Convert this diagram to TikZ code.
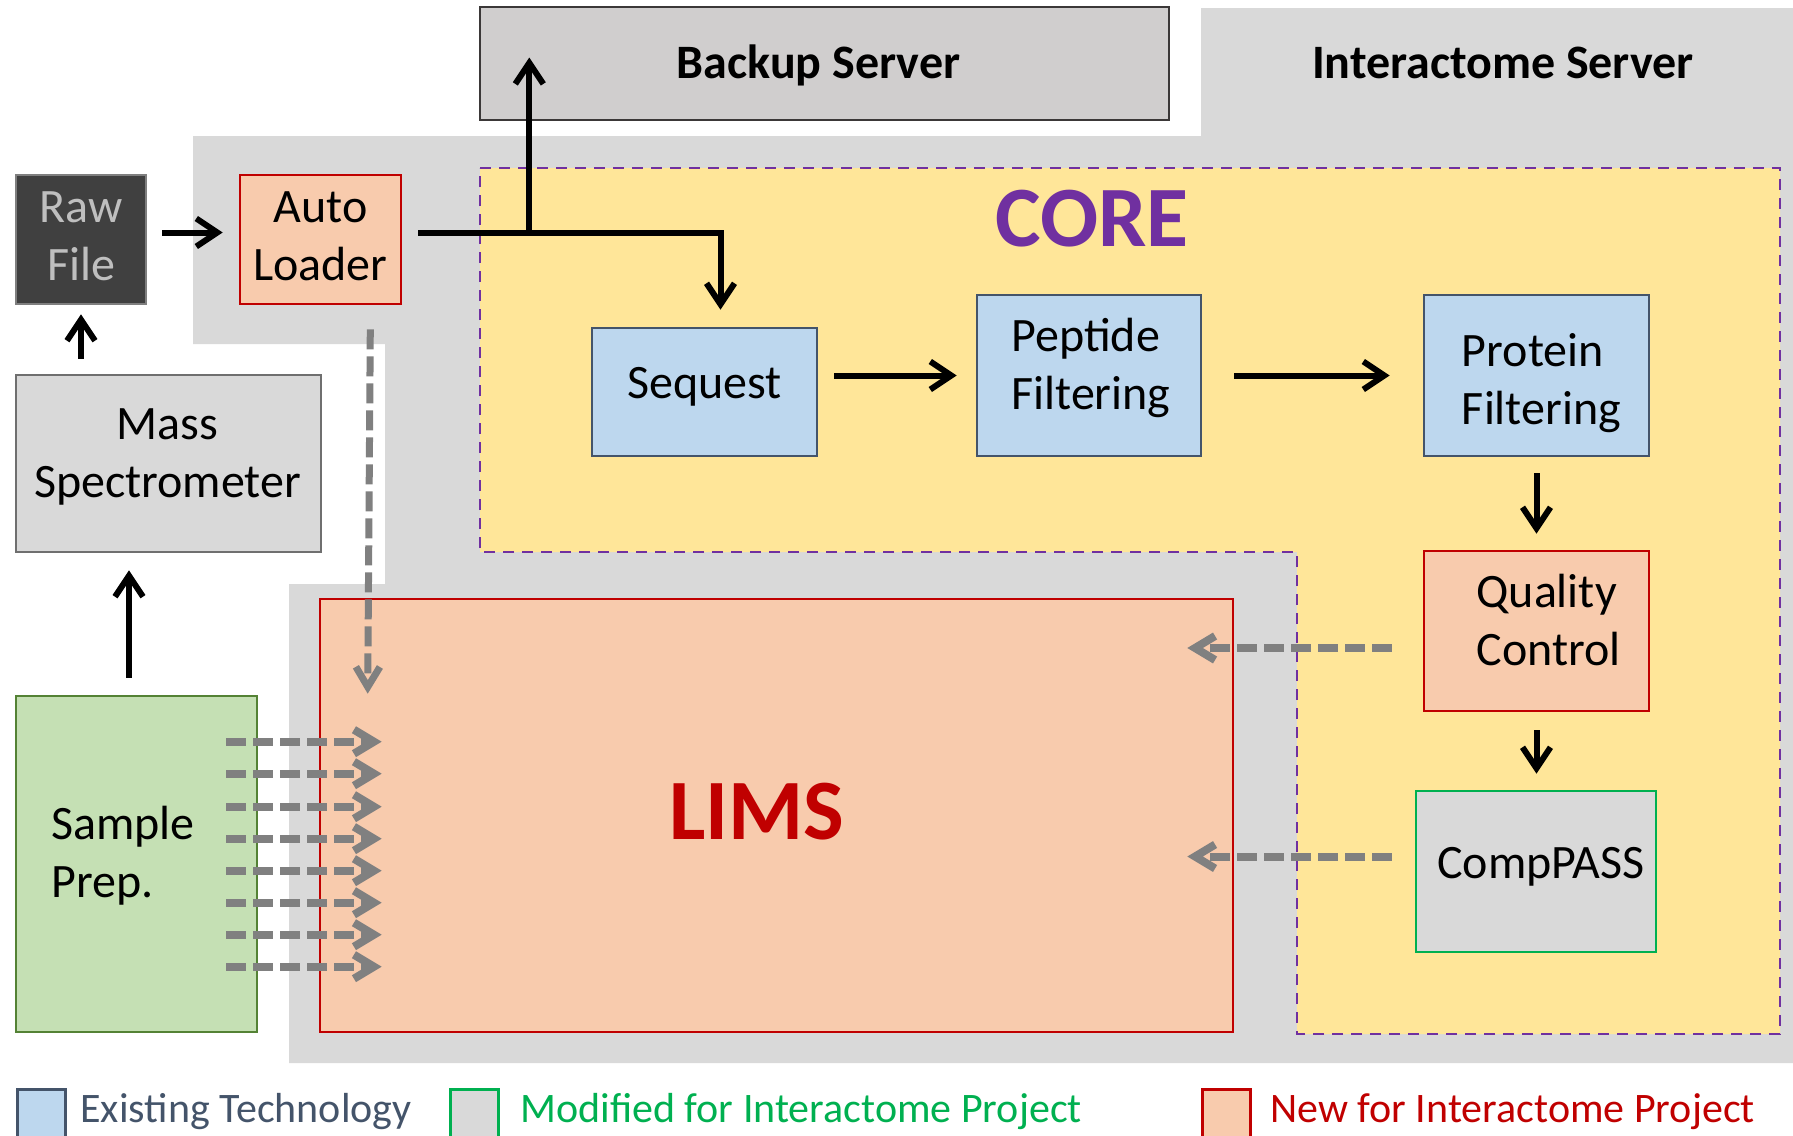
\documentclass[tikz,border=0pt]{standalone}
\usepackage{fontspec}
\setmainfont{Carlito}
\usetikzlibrary{arrows.meta,calc}

\definecolor{srvgray}{HTML}{D9D9D9}
\definecolor{bkfill}{HTML}{D0CECE}
\definecolor{bkline}{HTML}{3B3838}
\definecolor{rawfill}{HTML}{404040}
\definecolor{rawline}{HTML}{7F7F7F}
\definecolor{rawtext}{HTML}{BFBFBF}
\definecolor{newfill}{HTML}{F8CBAD}
\definecolor{newline}{HTML}{C00000}
\definecolor{oldfill}{HTML}{BDD7EE}
\definecolor{oldline}{HTML}{44546A}
\definecolor{modline}{HTML}{00B050}
\definecolor{corefill}{HTML}{FFE699}
\definecolor{coreline}{HTML}{7030A0}
\definecolor{prepfill}{HTML}{C5E0B4}
\definecolor{prepline}{HTML}{548235}
\definecolor{flowgray}{HTML}{808080}
\definecolor{msline}{HTML}{6F6F6F}

\tikzset{
  box/.style={inner sep=0pt, line width=1.3pt},
  oldbox/.style={box, fill=oldfill, draw=oldline},
  newbox/.style={box, fill=newfill, draw=newline},
  boxtext/.style={inner sep=0pt, align=center, font=\fontsize{24}{29}\selectfont},
  flow/.style={line width=3pt, -{Straight Barb[length=10.5pt,width=14pt]}},
  feed/.style={flowgray, line width=4pt, dash pattern=on 10pt off 3.5pt,
    -{Straight Barb[length=10pt,width=12pt]}},
  feedv/.style={feed, line width=3.5pt},
  legendbox/.style={inner sep=0pt, line width=1.3pt, anchor=north west,
    minimum width=24pt, minimum height=30pt},
  legendtext/.style={anchor=base west, inner sep=0pt,
    font=\fontsize{21}{25}\selectfont},
}

\begin{document}
\begin{tikzpicture}[x=0.5pt,y=-0.5pt]
\useasboundingbox (0,0) rectangle (1793,1135);
\clip (0,0) rectangle (1793,1135);

% server area
\fill[srvgray] (193,136) -- (1201,136) -- (1201,8) -- (1793,8) -- (1793,1063)
  -- (289,1063) -- (289,584) -- (385,584) -- (385,344) -- (193,344) -- cycle;
\node[font=\fontsize{24}{29}\selectfont\bfseries] (srvtitle) at (1503,63) {Interactome Server};

% backup server
\node[box, fill=bkfill, draw=bkline, minimum width=344.5pt, minimum height=56.5pt]
  (backup) at (824.5,63.5) {};
\node[boxtext, font=\fontsize{24}{29}\selectfont\bfseries] (backuptext)
  at ($(backup.center)+(-6,2)$) {Backup Server};

% core pipeline area
\draw[coreline, fill=corefill, line width=1.3pt, dash pattern=on 5.5pt off 4pt]
  (480,168) -- (1780,168) -- (1780,1034) -- (1297,1034) -- (1297,552)
  -- (480,552) -- cycle;
\node[text=coreline, font=\fontsize{43}{50}\selectfont\bfseries] (coretitle) at (1092,219) {CORE};

% instrument side
\node[box, fill=rawfill, draw=rawline, minimum width=65pt, minimum height=64.5pt]
  (raw) at (81,239.5) {};
\node[boxtext, text=rawtext] (rawtext) at ($(raw.center)+(0,-3)$) {Raw\\File};
\node[newbox, minimum width=80.5pt, minimum height=64.5pt] (auto) at (320.5,239.5) {};
\node[boxtext] (autotext) at ($(auto.center)+(0,-3)$) {Auto\\Loader};
\node[box, fill=srvgray, draw=msline, minimum width=152.5pt, minimum height=88.5pt]
  (ms) at (168.5,463.5) {};
\node[boxtext] (mstext) at ($(ms.center)+(-1,-7)$) {Mass\\Spectrometer};
\node[box, fill=prepfill, draw=prepline, minimum width=120.5pt, minimum height=168pt]
  (prep) at (136.5,864) {};
\node[boxtext, anchor=west, align=left] (preptext) at (51,856) {Sample\\Prep.};

% LIMS
\node[newbox, minimum width=456.5pt, minimum height=216.5pt] (lims) at (776.5,815.5) {};
\node[text=newline, font=\fontsize{43}{50}\selectfont\bfseries] (limstitle) at (757,812) {LIMS};

% core steps
\node[oldbox, minimum width=112.5pt, minimum height=64pt] (seq) at (704.5,392) {};
\node[boxtext] (seqtext) at ($(seq.center)+(0,-5)$) {Sequest};
\node[oldbox, minimum width=112pt, minimum height=80.5pt] (pep) at (1089,375.5) {};
\node[boxtext, align=left] (peptext) at ($(pep.center)+(2,-8)$) {Peptide\\Filtering};
\node[oldbox, minimum width=112.5pt, minimum height=80.5pt] (prot) at (1536.5,375.5) {};
\node[boxtext, align=left] (prottext) at ($(prot.center)+(5,8)$) {Protein\\Filtering};
\node[newbox, minimum width=112.5pt, minimum height=80pt] (qc) at (1536.5,631) {};
\node[boxtext, align=left] (qctext) at ($(qc.center)+(12,-11)$) {Quality\\Control};
\node[box, fill=srvgray, draw=modline, minimum width=120pt, minimum height=80.5pt]
  (comp) at (1536,871.5) {};
\node[boxtext] (comptext) at ($(comp.center)+(5,-5)$) {CompPASS};

% solid data flow
\coordinate (rawout) at ($(raw.east)+(0,-7)$);
\coordinate (fork) at ($(auto.east)+(127,-7)$);
\coordinate (prepout) at ($(prep.north)+(-7.5,0)$);
\draw[flow, shorten <=7.5pt, shorten >=8pt] (rawout) -- (rawout -| auto.west);
\draw[flow, shorten <=7.5pt, shorten >=4.5pt] (ms.north -| raw.south) -- (raw.south);
\draw[flow, shorten <=8.5pt, shorten >=8.5pt] (prepout) -- (prepout |- ms.south);
\draw[flow, shorten <=8pt, shorten >=8.5pt] (rawout -| auto.east) -| ($(seq.north)+(16,0)$);
\draw[flow] (fork) -- ($(fork |- backup.center)+(0,-6)$);
\draw[flow, shorten <=8pt, shorten >=9.5pt] (seq.east |- pep.west) -- (pep.west);
\draw[flow, shorten <=16pt, shorten >=16.5pt] (pep.east) -- (prot.west);
\draw[flow, shorten <=8pt, shorten >=8pt] (prot.south) -- (qc.north);
\draw[flow, shorten <=9pt, shorten >=8pt] (qc.south) -- (qc.south |- comp.north);

% records sent to LIMS
\draw[feedv] ($(auto.south east)+(-32,24)$) -- ($(lims.north west)+(49,96)$);
\foreach \d in {47,79,112,144,176,208,240,272}
  \draw[feed] ($(prep.north east)+(-32,\d)$) -- ($(lims.west |- prep.north)+(63,\d)$);
\draw[feed] ($(qc.west)+(-31,17)$) -- ($(lims.east |- qc.west)+(-47,17)$);
\draw[feed] ($(comp.west)+(-23,-15)$) -- ($(lims.east |- comp.west)+(-47,-15)$);

% legend
\node[legendbox, fill=oldfill, draw=oldline] (legold) at (16,1088) {};
\node[legendtext, text=oldline] (legoldtext) at (80,1122) {Existing Technology};
\node[legendbox, fill=srvgray, draw=modline] (legmod) at (449,1088) {};
\node[legendtext, text=modline] (legmodtext) at (520,1122) {Modified for Interactome Project};
\node[legendbox, fill=newfill, draw=newline] (legnew) at (1201,1088) {};
\node[legendtext, text=newline] (legnewtext) at (1270,1122) {New for Interactome Project};
\end{tikzpicture}
\end{document}
